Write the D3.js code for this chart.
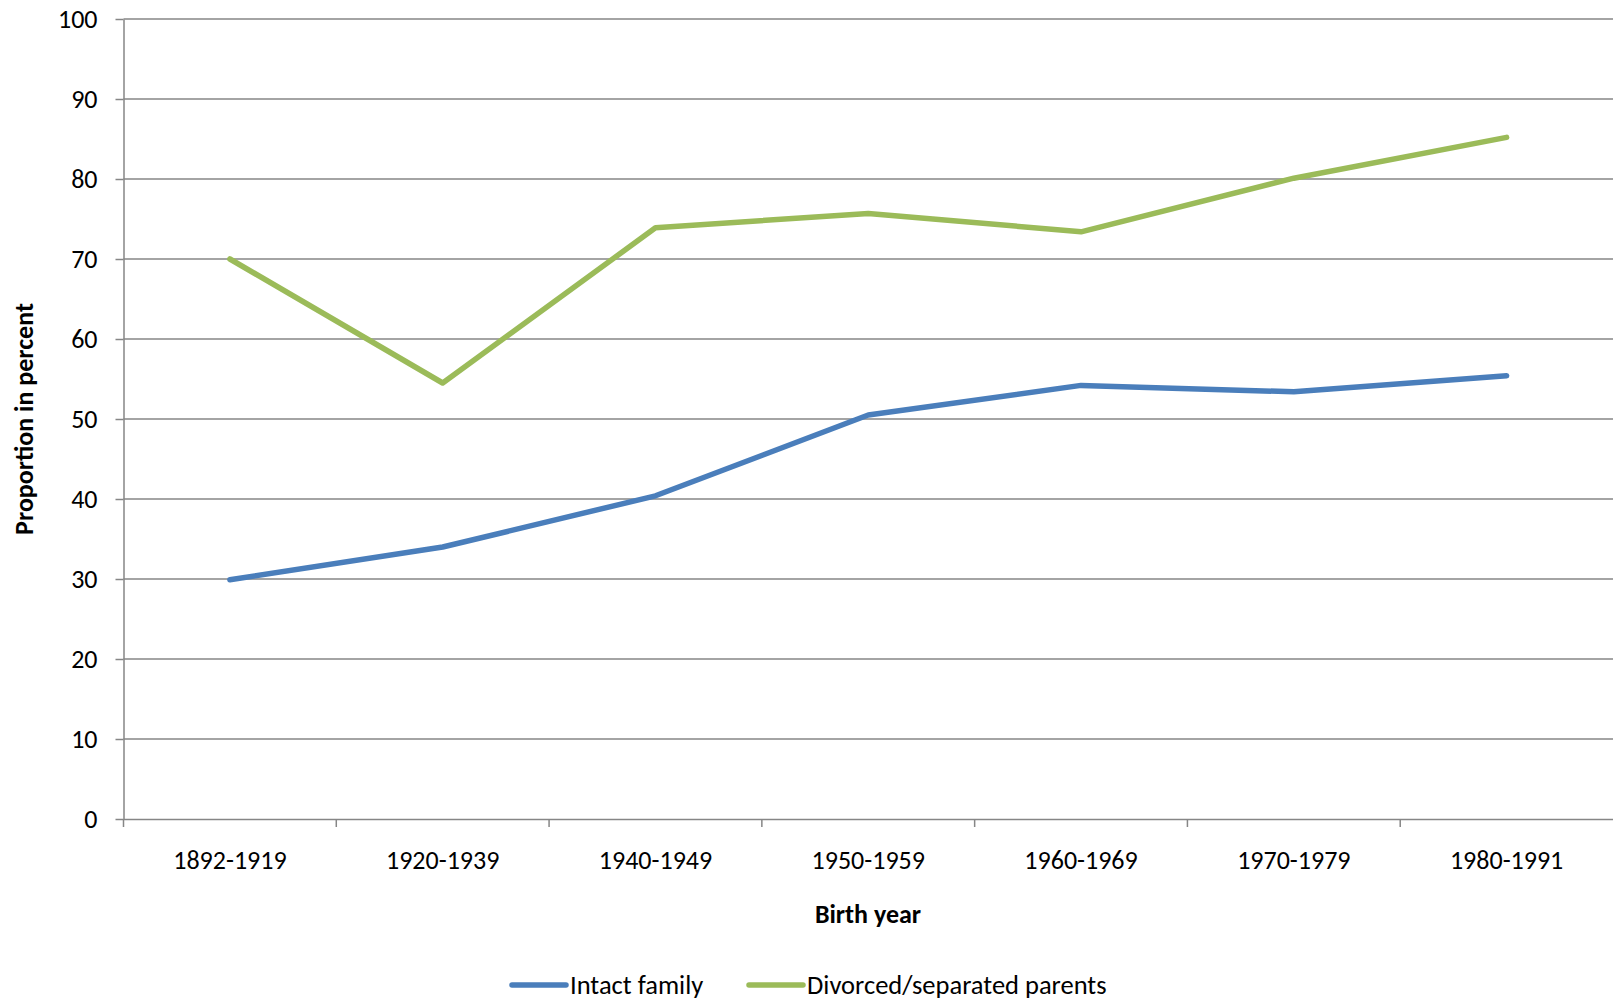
<!DOCTYPE html>
<html>
<head>
<meta charset="utf-8">
<script src="https://cdn.jsdelivr.net/npm/d3@7"></script>
<style>
  body { margin: 0; background: #fff; }
  svg { display: block; font-family: Carlito, Calibri, Lato, "DejaVu Sans", sans-serif; }
  svg text { font-family: Carlito, Calibri, Lato, "DejaVu Sans", sans-serif; }
  .grid line { stroke: #868686; stroke-width: 1.5; }
  .axis path, .axis line { stroke: #868686; stroke-width: 1.5; }
  .axis text { fill: #000; font-size: 26px; }
</style>
</head>
<body>
<svg width="1613" height="1003"></svg>
<script>
// Data
var categories = ["1892-1919", "1920-1939", "1940-1949", "1950-1959", "1960-1969", "1970-1979", "1980-1991"];
var intact = [29.9, 34.0, 40.4, 50.5, 54.2, 53.4, 55.4];
var divorced = [70.0, 54.5, 73.9, 75.7, 73.4, 80.1, 85.2];
var yTicks = [0, 10, 20, 30, 40, 50, 60, 70, 80, 90, 100];
var seriesNames = ["Intact family", "Divorced/separated parents"];

// Configuration
var margin = { left: 123.5, top: 19, right: 0, bottom: 184 }
  , width = 1613
  , height = 1003
  , innerWidth = width - margin.left - margin.right
  , innerHeight = height - margin.top - margin.bottom
  , fontSize = 26
  , colors = ["#4a7ebb", "#9bbb59"]
;

var svg = d3.select("svg")
  , g = svg.append("g").attr("transform", "translate(" + [margin.left, margin.top] + ")")
;

var xScale = d3.scaleBand().domain(categories).range([0, innerWidth])
  , yScale = d3.scaleLinear().domain([0, 100]).range([innerHeight, 0])
;

// Gridlines
g.append("g").attr("class", "grid")
  .selectAll("line")
  .data(yTicks.filter(function (d) { return d > 0; }))
  .enter().append("line")
    .attr("x1", 0)
    .attr("x2", innerWidth)
    .attr("y1", function (d) { return yScale(d); })
    .attr("y2", function (d) { return yScale(d); });

// Axes
var yAxis = d3.axisLeft(yScale).tickValues(yTicks).tickSize(8).tickPadding(18).tickSizeOuter(0);
var yAxisG = g.append("g").attr("class", "axis y").call(yAxis)
  .attr("font-family", null)
  .attr("font-size", fontSize);
yAxisG.selectAll(".tick text").attr("text-anchor", "end");

var xAxis = d3.axisBottom(xScale).tickSize(0).tickPadding(32).tickSizeOuter(0);
var xAxisG = g.append("g").attr("class", "axis x")
  .attr("transform", "translate(0," + innerHeight + ")")
  .call(xAxis)
  .attr("font-family", null)
  .attr("font-size", fontSize);
xAxisG.selectAll(".tick text").attr("text-anchor", "middle");
// category boundary ticks
xAxisG.selectAll(".bound")
  .data(categories)
  .enter().append("line")
    .attr("class", "bound")
    .attr("x1", function (d) { return xScale(d); })
    .attr("x2", function (d) { return xScale(d); })
    .attr("y1", 0)
    .attr("y2", 8);

// Lines
var line = d3.line()
  .x(function (d, i) { return xScale(categories[i]) + xScale.bandwidth() / 2; })
  .y(function (d) { return yScale(d); });

[intact, divorced].forEach(function (s, i) {
  g.append("path")
    .datum(s)
    .attr("fill", "none")
    .attr("stroke", colors[i])
    .attr("stroke-width", 5.5)
    .attr("stroke-linejoin", "round")
    .attr("stroke-linecap", "round")
    .attr("d", line);
});

// Axis titles
svg.append("text")
  .attr("x", 868)
  .attr("y", 923)
  .attr("text-anchor", "middle")
  .attr("font-size", fontSize)
  .attr("font-weight", "bold")
  .text("Birth year");

svg.append("text")
  .attr("transform", "translate(33," + (margin.top + innerHeight / 2) + ") rotate(-90)")
  .attr("text-anchor", "middle")
  .attr("font-size", fontSize)
  .attr("font-weight", "bold")
  .text("Proportion in percent");

// Legend
var legendPos = [512, 749];
var legend = svg.append("g").selectAll("g")
  .data(seriesNames)
  .enter().append("g")
    .attr("transform", function (d, i) { return "translate(" + legendPos[i] + ",985)"; });
legend.append("line")
  .attr("x1", 0).attr("x2", 54)
  .attr("stroke", function (d, i) { return colors[i]; })
  .attr("stroke-width", 5.5)
  .attr("stroke-linecap", "round");
legend.append("text")
  .attr("x", 58)
  .attr("dy", "0.35em")
  .attr("font-size", 26.5)
  .text(function (d) { return d; });
</script>
</body>
</html>
